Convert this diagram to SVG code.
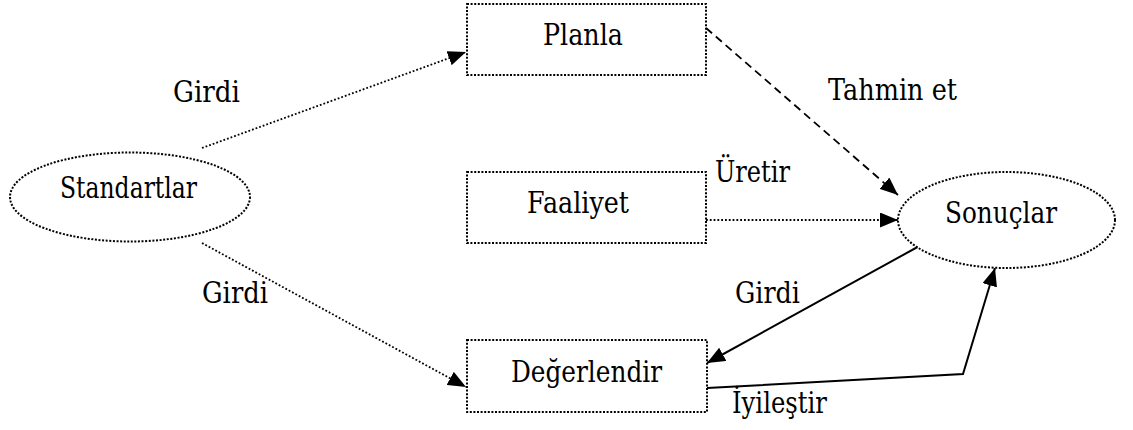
<svg xmlns="http://www.w3.org/2000/svg" width="1133" height="430" viewBox="0 0 1133 430">
  <style>
    .node { fill: #fff; stroke: #000; stroke-width: 2; stroke-dasharray: 2 1.6; }
    .lbl { font-family: 'DejaVu Serif', serif; font-size: 30px; fill: #000; }
    .dot { fill: none; stroke: #000; stroke-width: 1.8; stroke-dasharray: 1.8 2; }
    .dash { fill: none; stroke: #000; stroke-width: 1.8; stroke-dasharray: 8 5; }
    .solid { fill: none; stroke: #000; stroke-width: 2; }
  </style>
  <defs>
    <!-- filled triangular arrowhead shared by all connectors -->
    <marker id="arrow" markerUnits="userSpaceOnUse" markerWidth="19" markerHeight="15" refX="18" refY="7.5" orient="auto">
      <path d="M0,0 L18,7.5 L0,15 Z" fill="#000"/>
    </marker>
  </defs>
  <rect width="1133" height="430" fill="#fff"/>

  <g id="connectors">
    <line class="dot" x1="202" y1="148" x2="466" y2="52" marker-end="url(#arrow)"/>
    <line class="dot" x1="202" y1="243" x2="466" y2="387" marker-end="url(#arrow)"/>
    <line class="dash" x1="706" y1="28" x2="898" y2="195" marker-end="url(#arrow)"/>
    <line class="dot" x1="706" y1="220" x2="898" y2="220" marker-end="url(#arrow)"/>
    <line class="solid" x1="923" y1="244" x2="707" y2="363" marker-end="url(#arrow)"/>
    <polyline class="solid" points="707,388 963,374 995,268" marker-end="url(#arrow)"/>
    <text class="lbl" x="173" y="102" textLength="67" lengthAdjust="spacingAndGlyphs">Girdi</text>
    <text class="lbl" x="202" y="303" textLength="66" lengthAdjust="spacingAndGlyphs">Girdi</text>
    <text class="lbl" x="828" y="100" textLength="129" lengthAdjust="spacingAndGlyphs">Tahmin et</text>
    <text class="lbl" x="715" y="182" textLength="75" lengthAdjust="spacingAndGlyphs">Üretir</text>
    <text class="lbl" x="735" y="303" textLength="65" lengthAdjust="spacingAndGlyphs">Girdi</text>
    <text class="lbl" x="732" y="413" textLength="95" lengthAdjust="spacingAndGlyphs">İyileştir</text>
  </g>

  <g id="standartlar">
    <ellipse class="node" cx="130" cy="197" rx="120" ry="44.5"/>
    <text class="lbl" x="60" y="198" textLength="137" lengthAdjust="spacingAndGlyphs">Standartlar</text>
  </g>
  <g id="planla">
    <rect class="node" x="467" y="4" width="239" height="71"/>
    <text class="lbl" x="543" y="45" textLength="80" lengthAdjust="spacingAndGlyphs">Planla</text>
  </g>
  <g id="faaliyet">
    <rect class="node" x="467" y="172" width="239" height="71"/>
    <text class="lbl" x="527" y="213" textLength="102" lengthAdjust="spacingAndGlyphs">Faaliyet</text>
  </g>
  <g id="degerlendir">
    <rect class="node" x="467" y="340" width="240" height="72"/>
    <text class="lbl" x="511" y="382" textLength="151" lengthAdjust="spacingAndGlyphs">Değerlendir</text>
  </g>
  <g id="sonuclar">
    <ellipse class="node" cx="1006.5" cy="220" rx="108.5" ry="48"/>
    <text class="lbl" x="945" y="223" textLength="112" lengthAdjust="spacingAndGlyphs">Sonuçlar</text>
  </g>
</svg>
